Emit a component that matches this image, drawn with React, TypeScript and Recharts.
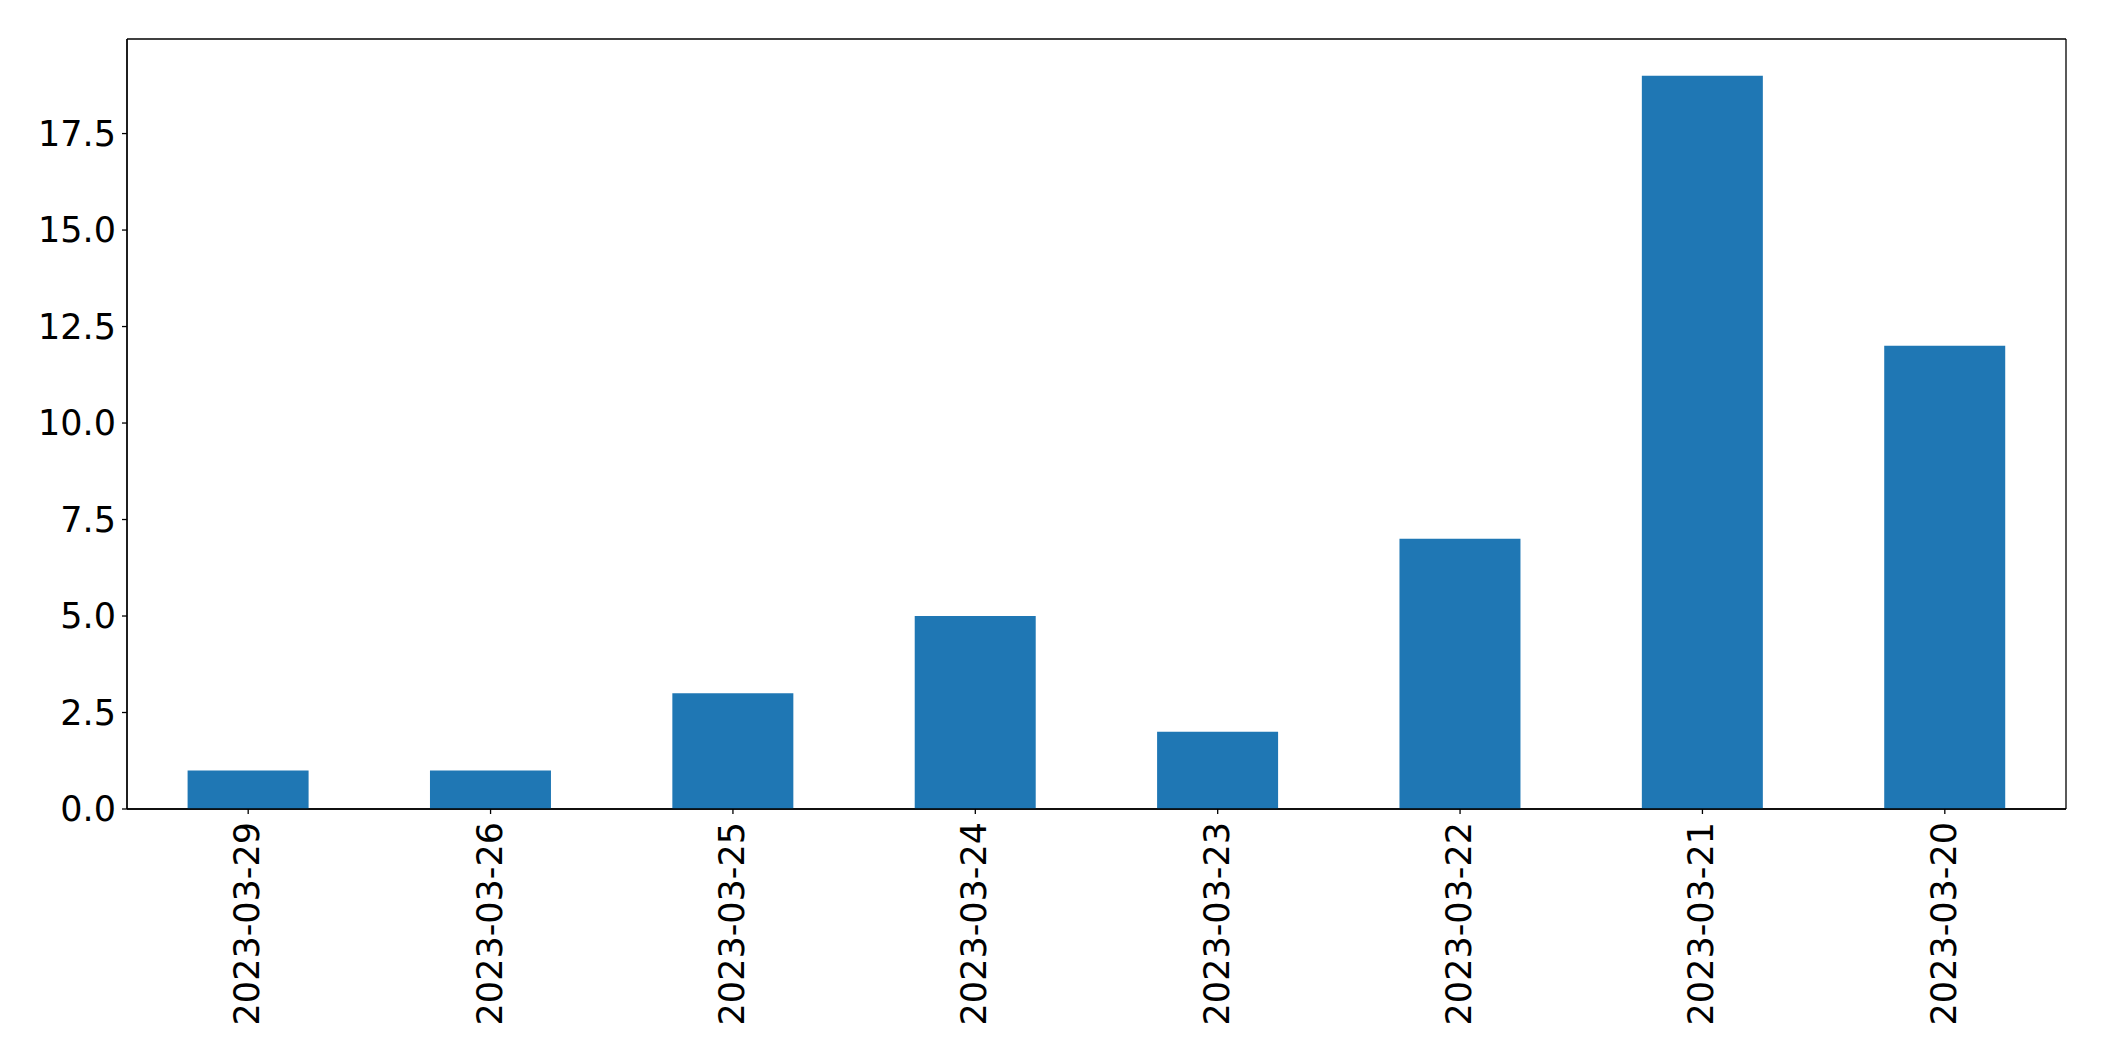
import { BarChart, Bar, XAxis, YAxis, CartesianGrid } from "recharts";

// Daily counts, in the order they appear on the x axis
const dates = [
  "2023-03-29",
  "2023-03-26",
  "2023-03-25",
  "2023-03-24",
  "2023-03-23",
  "2023-03-22",
  "2023-03-21",
  "2023-03-20",
];
const counts = [1, 1, 3, 5, 2, 7, 19, 12];
const yTicks = [0, 2.5, 5, 7.5, 10, 12.5, 15, 17.5];

const data = dates.map((d, i) => ({ date: d, count: counts[i] }));

const FONT = "'DejaVu Sans', sans-serif";
const FONT_SIZE = 35;

function DateTick({ x, y, payload }: any) {
  return (
    <g transform={`translate(${x},${y}) rotate(-90)`}>
      <text
        x={0}
        y={0}
        dy={11}
        textAnchor="end"
        fill="#000"
        fontSize={FONT_SIZE}
        fontFamily={FONT}
      >
        {payload.value}
      </text>
    </g>
  );
}

// frame around the plot area (matplotlib-style spines)
const frameRows = ({ offset }: any) => [offset.top, offset.top + offset.height];
const frameCols = ({ offset }: any) => [offset.left, offset.left + offset.width];

export default function App() {
  return (
    <div style={{ position: "absolute", left: 0, top: 0, background: "#fff" }}>
      <BarChart
        width={2104}
        height={1061}
        data={data}
        margin={{ top: 39, right: 38, left: 0, bottom: 0 }}
        barCategoryGap="25%"
      >
        <CartesianGrid
          stroke="#000"
          strokeWidth={1.3}
          fill="none"
          horizontalCoordinatesGenerator={frameRows}
          verticalCoordinatesGenerator={frameCols}
        />
        <XAxis
          dataKey="date"
          height={252}
          interval={0}
          tick={<DateTick />}
          tickSize={5}
          tickMargin={8}
          axisLine={{ stroke: "#000", strokeWidth: 1.3 }}
          tickLine={{ stroke: "#000", strokeWidth: 1.3 }}
        />
        <YAxis
          width={127}
          domain={[0, 19.95]}
          ticks={yTicks}
          interval={0}
          tickFormatter={(v: number) => v.toFixed(1)}
          tick={{ fontSize: FONT_SIZE, fill: "#000", fontFamily: FONT }}
          tickSize={5}
          tickMargin={6}
          axisLine={{ stroke: "#000", strokeWidth: 1.3 }}
          tickLine={{ stroke: "#000", strokeWidth: 1.3 }}
        />
        <Bar dataKey="count" fill="#1f77b4" isAnimationActive={false} />
      </BarChart>
    </div>
  );
}
